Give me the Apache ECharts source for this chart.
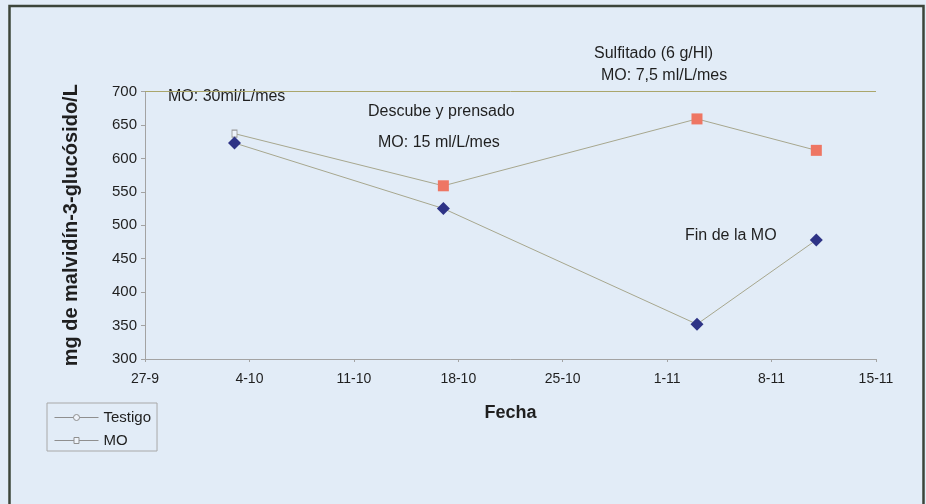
<!DOCTYPE html>
<html>
<head>
<meta charset="utf-8">
<script src="https://cdn.jsdelivr.net/npm/echarts@6/dist/echarts.min.js"></script>
<style>
  html, body { margin: 0; padding: 0; background: #e2ecf7; }
  #chart { width: 926px; height: 504px; }
</style>
</head>
<body>
<div id="chart"></div>
<script>
// Sampling dates (day-month) and anthocyanin contents
const fechas = ['3-10', '17-10', '3-11', '11-11'];
const testigo = [623, 525, 352, 478];
const mo = [637, 559, 659, 612];
// Axis tick labels, one per week starting on 27-9
const xTicks = ['27-9', '4-10', '11-10', '18-10', '25-10', '1-11', '8-11', '15-11'];
const seriesNames = ['Testigo', 'MO'];

const FONT = '"Liberation Sans", Arial, sans-serif';
const TEXT = '#1f1f1f';

// Days elapsed since the first tick (27-9)
function dayOf(s) {
  const [d, m] = s.split('-').map(Number);
  const [d0, m0] = xTicks[0].split('-').map(Number);
  return Math.round((Date.UTC(2000, m - 1, d) - Date.UTC(2000, m0 - 1, d0)) / 86400000);
}

const testigoData = fechas.map((f, i) => [dayOf(f), testigo[i]]);
const moData = fechas.map((f, i) => {
  const p = { value: [dayOf(f), mo[i]] };
  if (i === 0) {
    // first MO sample drawn as a small hollow marker
    p.symbol = 'rect';
    p.symbolSize = [5, 7];
    p.itemStyle = { color: '#eef3fa', borderColor: '#9a9a9a', borderWidth: 1 };
  }
  return p;
});

const chart = echarts.init(document.getElementById('chart'), null, { renderer: 'canvas' });

const note = (text, x, y) => ({
  type: 'text', left: x, top: y - 9,
  style: { text, fill: TEXT, font: '16px ' + FONT }
});

chart.setOption({
  backgroundColor: '#e2ecf7',
  animation: false,
  grid: { left: 145, right: 50, top: 91.5, bottom: 145 },
  xAxis: {
    type: 'value',
    min: 0, max: 49, interval: 7,
    name: 'Fecha',
    nameLocation: 'middle',
    nameGap: 45,
    nameTextStyle: { fontFamily: FONT, fontSize: 18, fontWeight: 'bold', color: TEXT },
    axisLine: { show: true, lineStyle: { color: '#a3a3a3', width: 1 } },
    axisTick: { show: true, length: 3, lineStyle: { color: '#a3a3a3' } },
    splitLine: { show: false },
    axisLabel: {
      margin: 13, fontFamily: FONT, fontSize: 14, color: TEXT,
      formatter: v => xTicks[Math.round(v / 7)] || ''
    }
  },
  yAxis: {
    type: 'value',
    min: 300, max: 700, interval: 50,
    name: 'mg de malvidín-3-glucósido/L',
    nameLocation: 'middle',
    nameGap: 64,
    nameRotate: 90,
    nameTextStyle: { fontFamily: FONT, fontSize: 20, fontWeight: 'bold', color: TEXT },
    axisLine: { show: true, lineStyle: { color: '#a3a3a3', width: 1 } },
    axisTick: { show: true, length: 4, lineStyle: { color: '#a3a3a3' } },
    splitLine: { show: false },
    axisLabel: { margin: 8, fontFamily: FONT, fontSize: 15, color: TEXT }
  },
  legend: {
    orient: 'vertical',
    left: 47, top: 403,
    padding: [7, 6, 3, 7],
    borderColor: '#a8a8a8', borderWidth: 1,
    itemWidth: 44, itemHeight: 6, itemGap: 8,
    textStyle: { fontFamily: FONT, fontSize: 15, color: TEXT, lineHeight: 15 },
    itemStyle: { color: '#eef3fa', borderColor: '#8f8f8f', borderWidth: 1 },
    data: [
      { name: seriesNames[0], icon: 'path://M0,3L19,3M25,3L44,3M22,0A3,3,0,1,1,22,6A3,3,0,1,1,22,0Z' },
      { name: seriesNames[1], icon: 'path://M0,3L19.5,3M24.5,3L44,3M19.5,0L24.5,0L24.5,6L19.5,6Z' }
    ]
  },
  series: [
    {
      name: seriesNames[0],
      type: 'line',
      data: testigoData,
      symbol: 'diamond',
      symbolSize: 13,
      itemStyle: { color: '#2e3386' },
      lineStyle: { color: '#a7a78e', width: 1 },
      markLine: {
        silent: true,
        symbol: 'none',
        label: { show: false },
        lineStyle: { color: '#aaa66c', width: 1, type: 'solid' },
        data: [{ yAxis: 700 }]
      },
      z: 3
    },
    {
      name: seriesNames[1],
      type: 'line',
      data: moData,
      symbol: 'rect',
      symbolSize: 11,
      itemStyle: { color: '#ee7663' },
      lineStyle: { color: '#a7a78e', width: 1 },
      z: 2
    }
  ],
  graphic: [
    {
      type: 'rect', silent: true, z: 100,
      shape: { x: 9.5, y: 6, width: 914, height: 520 },
      style: { fill: 'none', stroke: '#3c453a', lineWidth: 2.5 }
    },
    note('MO: 30ml/L/mes', 168, 98),
    note('Descube y prensado', 368, 113),
    note('MO: 15 ml/L/mes', 378, 144),
    note('Sulfitado (6 g/Hl)', 594, 55),
    note('MO: 7,5 ml/L/mes', 601, 77),
    note('Fin de la MO', 685, 237)
  ]
});
</script>
</body>
</html>
